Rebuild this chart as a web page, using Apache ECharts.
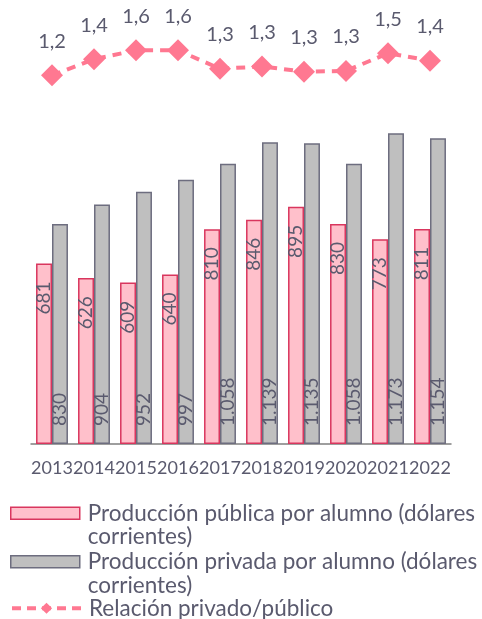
<!DOCTYPE html>
<html>
<head>
<meta charset="utf-8">
<script src="https://cdn.jsdelivr.net/npm/echarts@6/dist/echarts.min.js"></script>
<style>
  html, body { margin: 0; padding: 0; background: #fff; }
  #myChart { width: 482px; height: 619px; }
</style>
</head>
<body>
<div id="myChart"></div>
<script>
const years = ['2013', '2014', '2015', '2016', '2017', '2018', '2019', '2020', '2021', '2022'];
const publicValues = [681, 626, 609, 640, 810, 846, 895, 830, 773, 811];
const privateValues = [830, 904, 952, 997, 1058, 1139, 1135, 1058, 1173, 1154];
const ratioValues = [1.22, 1.44, 1.56, 1.56, 1.31, 1.34, 1.27, 1.28, 1.52, 1.42];
const seriesNames = [
  'Producción pública por alumno (dólares corrientes)',
  'Producción privada por alumno (dólares corrientes)',
  'Relación privado/público'
];

const textColor = '#5a5a6e';
const fontFamily = 'Lato, sans-serif';

// 1058 -> "1.058"
const fmtThousands = (v) => {
  if (v < 1000) return String(v);
  return Math.floor(v / 1000) + '.' + String(v % 1000).padStart(3, '0');
};
// blank first line keeps the icon level with the first line of text
const wrapName = (name) => ' \n' + name.replace('(dólares ', '(dólares\n');

const myChart = echarts.init(document.getElementById('myChart'));

const legendText = { color: textColor, fontFamily: fontFamily, fontSize: 22.5, lineHeight: 23.5, padding: [0, 0, 0, 3] };

const legendBase = {
  left: 10,
  padding: 0,
  itemWidth: 69,
  itemHeight: 12,
  textStyle: legendText
};

const option = {
  animation: false,
  grid: [
    { left: 31, right: 31, top: 126, bottom: 175 },
    { left: 31, right: 31, top: 18, height: 73.5 }
  ],
  xAxis: [
    {
      type: 'category',
      gridIndex: 0,
      data: years,
      axisLine: { lineStyle: { color: '#7f7f7f', width: 1.5 } },
      axisTick: { show: false },
      axisLabel: { color: textColor, fontFamily: fontFamily, fontSize: 18, margin: 15, interval: 0 }
    },
    {
      type: 'category',
      gridIndex: 1,
      data: years,
      show: false
    }
  ],
  yAxis: [
    { type: 'value', gridIndex: 0, min: 0, max: 1200, show: false, splitLine: { show: false } },
    { type: 'value', gridIndex: 1, min: 1, max: 2, show: false, splitLine: { show: false } }
  ],
  legend: [
    Object.assign({}, legendBase, {
      top: 478,
      icon: 'rect',
      data: [seriesNames[0]],
      formatter: wrapName,
      itemStyle: { color: '#ffc0cb', borderColor: '#d9365e', borderWidth: 1.5 }
    }),
    Object.assign({}, legendBase, {
      top: 526.5,
      icon: 'rect',
      data: [seriesNames[1]],
      formatter: wrapName,
      itemStyle: { color: '#bfbfbf', borderColor: '#6d6d7f', borderWidth: 1.5 }
    }),
    Object.assign({}, legendBase, {
      top: 596.5,
      data: [seriesNames[2]],
      itemHeight: 14,
      lineStyle: { color: '#ff7891', width: 4, type: [9, 6] }
    })
  ],
  series: [
    {
      name: seriesNames[0],
      type: 'bar',
      xAxisIndex: 0,
      yAxisIndex: 0,
      barGap: 0,
      barCategoryGap: '24%',
      itemStyle: { color: '#ffc0cb', borderColor: '#d9365e', borderWidth: 1.5 },
      label: {
        show: true,
        position: 'insideTop',
        distance: 18,
        rotate: 90,
        align: 'right',
        verticalAlign: 'middle',
        color: textColor,
        fontFamily: fontFamily,
        fontSize: 19,
        formatter: (p) => fmtThousands(p.value)
      },
      data: publicValues
    },
    {
      name: seriesNames[1],
      type: 'bar',
      xAxisIndex: 0,
      yAxisIndex: 0,
      itemStyle: { color: '#bfbfbf', borderColor: '#6d6d7f', borderWidth: 1.5 },
      label: {
        show: true,
        position: 'insideBottom',
        distance: 18,
        rotate: 90,
        align: 'left',
        verticalAlign: 'middle',
        color: textColor,
        fontFamily: fontFamily,
        fontSize: 19,
        formatter: (p) => fmtThousands(p.value)
      },
      data: privateValues
    },
    {
      name: seriesNames[2],
      type: 'line',
      xAxisIndex: 1,
      yAxisIndex: 1,
      symbol: 'diamond',
      symbolSize: 22,
      itemStyle: { color: '#ff7891' },
      lineStyle: { color: '#ff7891', width: 4, type: [9, 7] },
      label: {
        show: true,
        position: 'top',
        distance: 13,
        color: textColor,
        fontFamily: fontFamily,
        fontSize: 20,
        formatter: (p) => p.value.toFixed(1).replace('.', ',')
      },
      data: ratioValues
    }
  ]
};

option && myChart.setOption(option);
</script>
</body>
</html>
